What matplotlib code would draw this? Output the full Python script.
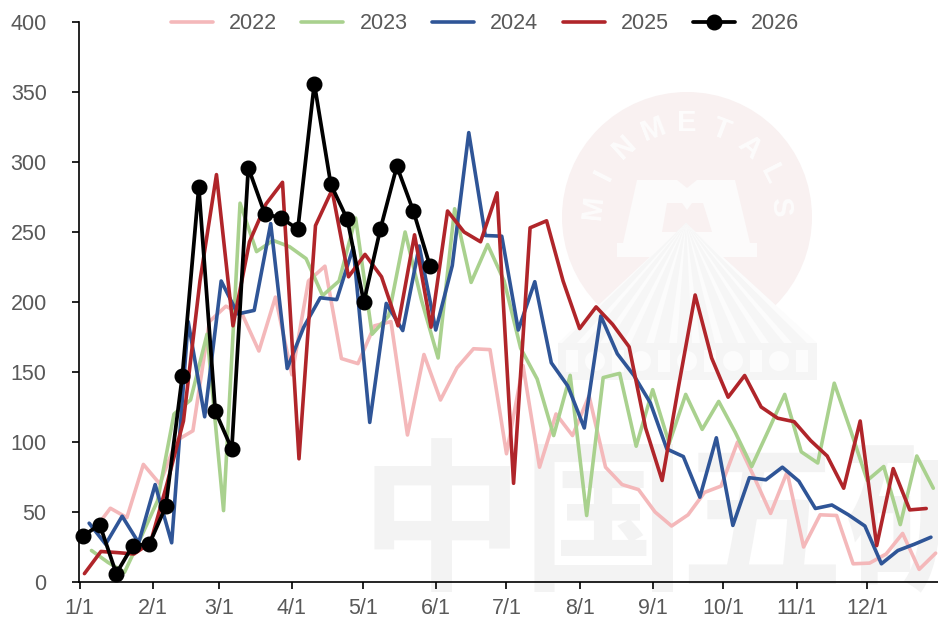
# weekly series, one line per year, with faded company watermark behind

import numpy as np
import matplotlib
matplotlib.use("Agg")
import matplotlib.pyplot as plt
from matplotlib.patches import Circle, Polygon, Rectangle

years = ["2022", "2023", "2024", "2025", "2026"]
# first friday of each year, day of year counted from 0
start_days = [6, 5, 4, 2, 1.5]

v2022 = [37, 52.7, 46, 84, 70, 101, 108, 186, 197, 191, 165, 203.5, 148, 215, 225.6, 159.6,
         156, 183, 186, 105, 162.5, 130, 153, 166.6, 166, 91.6, 154.6, 82, 120, 104.6, 133, 82,
         69.6, 66, 50, 40, 48, 64, 68.5, 100, 75, 49, 78.5, 25, 48, 47.5, 13, 13.5, 20, 34.7, 9, 20.6]
v2023 = [22.5, 14, 7, 32, 58, 120, 130, 177, 51, 270.6, 236, 244, 239.5, 231, 204.6, 215,
         260, 177, 190, 250, 201, 160, 266.6, 214, 241, 215, 167, 145, 104.6, 147.6, 47.5, 146,
         149, 97, 137.4, 99, 134, 109, 129, 107, 82.5, 108, 134, 93, 85, 142, 108, 72.5, 82.5, 41, 90, 67]
v2024 = [42, 27, 47, 28, 69.6, 28, 186, 118, 215, 191.5, 194, 256, 152.5, 182, 203, 201.7,
         239, 114, 199, 179.6, 240, 180, 226, 321, 247.5, 247, 180, 214.5, 156.6, 140, 110, 190,
         163, 147.6, 128, 95, 89.6, 60.6, 103, 40.4, 74.5, 73, 82, 72, 52.5, 55, 48, 40, 13, 22.5, 27, 32]
v2025 = [6, 21.8, 21, 20, 28, 70, 115, 215, 291, 183, 243, 270, 285.5, 88, 254.6, 280,
         218, 234, 218, 183, 248, 182, 265, 250, 243, 278, 70.5, 253, 258, 215, 181, 196.5,
         184, 168, 110, 72.5, 140, 205, 160, 132, 147.5, 125, 117, 114.5, 101, 90, 67, 115, 26, 81, 51.5, 52.5]
v2026 = [33, 41, 6, 26, 27, 54, 147, 282, 122, 95, 296, 263, 260, 252, 356, 284, 259, 200, 252, 297, 265, 226]
series = [v2022, v2023, v2024, v2025, v2026]

colors = ["#f4b8ba", "#a9d18e", "#2f5597", "#b0252a", "#000000"]
month_days = [0, 31, 59, 90, 120, 151, 181, 212, 243, 273, 304, 334]
month_labels = ["1/1", "2/1", "3/1", "4/1", "5/1", "6/1", "7/1", "8/1", "9/1", "10/1", "11/1", "12/1"]
y_ticks = [0, 50, 100, 150, 200, 250, 300, 350, 400]

W, H = 938, 618
TXT = "#595959"
plt.rcParams["font.family"] = ["Liberation Sans", "DejaVu Sans"]

fig = plt.figure(figsize=(W / 100, H / 100), dpi=100)

# watermark layer, in pixel coords
bg = fig.add_axes([0, 0, 1, 1])
bg.set_xlim(0, W)
bg.set_ylim(H, 0)
bg.axis("off")

for ch, px in zip("中国五矿", [441, 603, 761, 925]):
    bg.text(px, 529, ch, family="Noto Sans CJK SC", weight="bold", fontsize=118,
            color="#f3f3f3", va="center", ha="center")

cx, cy = 687, 217
bg.add_patch(Circle((cx, cy), 125, fc="#f9f1f1", ec="none"))
for i, ch in enumerate("MINMETALS"):
    ang = np.radians(-84 + 21 * i)
    bg.text(cx + 94 * np.sin(ang), cy - 94 * np.cos(ang), ch, fontsize=21, weight="bold",
            family="Liberation Sans", color="#fdfcfc", rotation=-np.degrees(ang),
            ha="center", va="center")

m_x = [637, 677, 687, 697, 735, 750, 757, 757, 617, 617, 623]
m_y = [180, 180, 188, 180, 180, 243, 243, 257, 257, 243, 243]
bg.add_patch(Polygon(list(zip(m_x, m_y)), fc="#fcfbfb", ec="none"))
bg.add_patch(Polygon([(667, 203), (682, 203), (687, 210), (692, 203), (703, 203), (712, 232), (662, 232)],
                     fc="#f9f1f1", ec="none"))

# rays and base
apex = (686, 223)
bg.add_patch(Polygon([apex, (558, 343), (817, 343)], fc="#fcfcfc", ec="none"))
for bx in np.linspace(562, 792, 11):
    bg.add_patch(Polygon([apex, (bx, 343), (bx + 15, 343)], fc="#f6f6f6", ec="none"))
bg.add_patch(Rectangle((558, 343), 259, 37, fc="#f5f5f5", ec="none"))
for k, bx in enumerate(np.linspace(572, 802, 11)):
    if k % 2:
        bg.add_patch(Circle((bx, 361), 10, fc="#fcfcfc", ec="none"))
    else:
        bg.add_patch(Rectangle((bx - 6, 350), 12, 22, fc="#fcfcfc", ec="none"))

ax = fig.add_axes([79 / W, 1 - 582 / H, (W - 79) / W, 560 / H])
ax.patch.set_alpha(0)

for yr, start, vals, col in zip(years, start_days, series, colors):
    xs = start + 7 * np.arange(len(vals))
    if yr == "2026":
        ax.plot(xs, vals, color=col, lw=2.7, marker="o", ms=10.5, label=yr, clip_on=False,
                solid_capstyle="round")
    else:
        ax.plot(xs, vals, color=col, lw=2.6, label=yr, clip_on=False,
                solid_joinstyle="round", solid_capstyle="round")

ax.set_xlim(-0.3, 364)
ax.set_ylim(0, 400)
ax.set_xticks(month_days)
ax.set_xticklabels(month_labels)
ax.set_yticks(y_ticks)
ax.spines["top"].set_visible(False)
ax.spines["right"].set_visible(False)
ax.spines["left"].set_linewidth(1.2)
ax.spines["bottom"].set_linewidth(1.2)
ax.tick_params(axis="both", length=4.8, width=1.2, color="black", labelsize=15.5, labelcolor=TXT)
ax.tick_params(axis="x", pad=6.5)
ax.tick_params(axis="y", pad=18.5)

ax.legend(loc="upper center", bbox_to_anchor=(0.4726, 1.0155), ncol=5, frameon=False, fontsize=15.5,
          labelcolor=TXT, handlelength=1.95, columnspacing=1.135, handletextpad=0.75, borderpad=0,
          borderaxespad=0)

fig.savefig("out.png", dpi=100)
